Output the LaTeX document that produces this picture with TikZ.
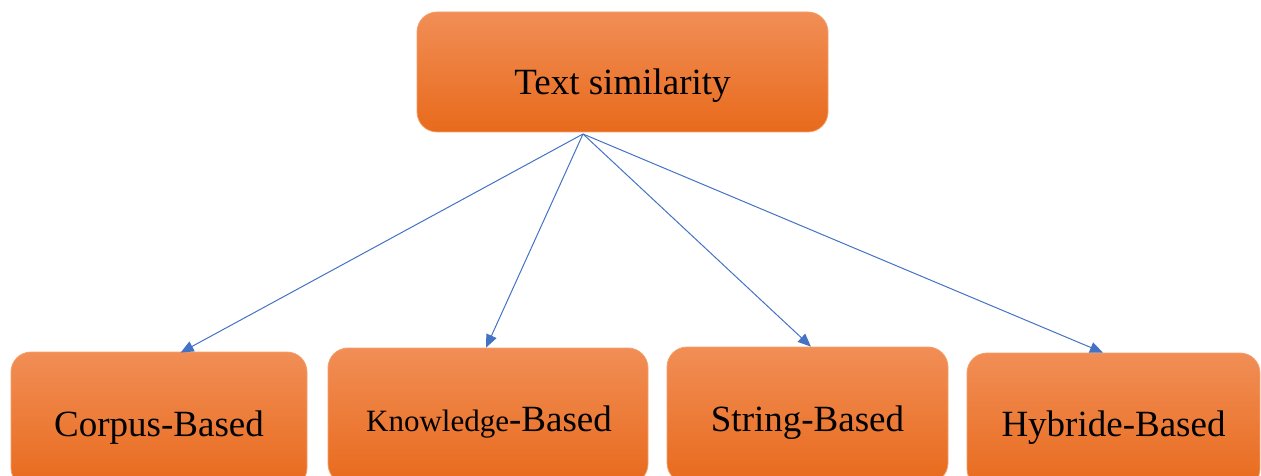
\documentclass[tikz,border=0pt]{standalone}
\usepackage{fontspec}
\setmainfont{Liberation Serif}
\usetikzlibrary{arrows.meta,calc}
\definecolor{otop}{RGB}{241,142,86}
\definecolor{omid}{RGB}{242,124,44}
\definecolor{obot}{RGB}{232,106,28}
\definecolor{oedge}{RGB}{244,160,106}
\definecolor{arrblue}{RGB}{68,114,196}
\tikzset{
  obox/.style={rounded corners=20pt, top color=otop, middle color=omid, bottom color=obot,
    draw=oedge, line width=0.8pt, inner sep=0pt},
  lbl/.style={anchor=base, inner sep=0pt, font=\fontsize{37}{40}\selectfont},
  conn/.style={draw=arrblue, line width=1pt, -{Triangle[length=13pt,width=11pt]}}
}
\begin{document}
\begin{tikzpicture}[x=1pt,y=-1pt]
\useasboundingbox (0,0) rectangle (1261,476);
\clip (0,0) rectangle (1261,476);
\node[obox, minimum width=411pt, minimum height=120pt] (top) at (622.5,72) {};
\node[lbl] (ttop) at (622.5,95) {Text similarity};

\node[obox, minimum width=296pt, minimum height=136pt] (corpus) at (159,420) {};
\node[lbl] (tcorpus) at (159,436) {Corpus-Based};

\node[obox, minimum width=320pt, minimum height=136pt] (know) at (488,416) {};
\node[lbl] (tknow) at (489,431) {{\fontsize{31}{34}\selectfont Knowledge}-Based};

\node[obox, minimum width=281pt, minimum height=136pt] (string) at (807.5,415) {};
\node[lbl] (tstring) at (807.5,431) {String-Based};

\node[obox, minimum width=293pt, minimum height=136pt] (hyb) at (1113.5,421) {};
\node[lbl] (thyb) at (1113.5,436) {Hybride-Based};

\coordinate (src) at (583,134);
\draw[conn] (src) -- ($(corpus.north west)!0.573!(corpus.north east)+(0,1)$);
\draw[conn] (src) -- ($(know.north west)!0.494!(know.north east)$);
\draw[conn] (src) -- ($(string.north west)!0.512!(string.north east)$);
\draw[conn] (src) -- ($(hyb.north west)!0.464!(hyb.north east)$);
\end{tikzpicture}
\end{document}
